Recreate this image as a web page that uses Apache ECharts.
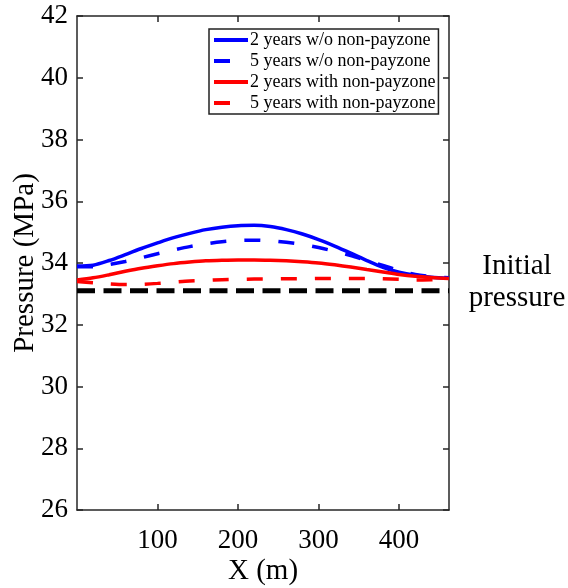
<!DOCTYPE html>
<html>
<head>
<meta charset="utf-8">
<script src="https://cdn.jsdelivr.net/npm/echarts@6/dist/echarts.min.js"></script>
<style>
  html, body { margin: 0; padding: 0; background: #fff; }
  #chart { width: 568px; height: 588px; }
</style>
</head>
<body>
<div id="chart"></div>
<script>
// Position along the section (m)
const xPos = [0, 20, 40, 60, 80, 100, 120, 140, 160, 180, 200, 220, 240, 260, 280, 300, 320, 340, 360, 380, 400, 420, 440, 462];

// Pressure profiles (MPa)
const p2yNoNonPay = [33.90, 33.93, 34.08, 34.27, 34.47, 34.65, 34.82, 34.96, 35.08, 35.16, 35.21, 35.22, 35.18, 35.08, 34.94, 34.76, 34.55, 34.32, 34.08, 33.86, 33.70, 33.60, 33.54, 33.51];
const p5yNoNonPay = [33.88, 33.88, 33.95, 34.05, 34.17, 34.30, 34.42, 34.53, 34.62, 34.69, 34.73, 34.74, 34.72, 34.67, 34.60, 34.50, 34.38, 34.24, 34.08, 33.92, 33.76, 33.63, 33.56, 33.52];
const p2yNonPay = [33.45, 33.52, 33.62, 33.73, 33.83, 33.91, 33.98, 34.03, 34.07, 34.09, 34.10, 34.10, 34.09, 34.07, 34.04, 34.00, 33.94, 33.87, 33.79, 33.71, 33.63, 33.57, 33.53, 33.50];
const p5yNonPay = [33.40, 33.36, 33.32, 33.30, 33.31, 33.34, 33.38, 33.42, 33.44, 33.46, 33.47, 33.48, 33.48, 33.49, 33.49, 33.50, 33.50, 33.50, 33.50, 33.49, 33.47, 33.45, 33.46, 33.48];

const initialPressure = 33.1;

const seriesNames = [
  '2 years w/o non-payzone',
  '5 years w/o non-payzone',
  '2 years with non-payzone',
  '5 years with non-payzone'
];

const xTickValues = [100, 200, 300, 400];
const xMin = 0, xMax = 462;
const yMin = 26, yMax = 42, yStep = 2;

const FONT = "'Liberation Serif', 'Times New Roman', serif";
const AXIS_COLOR = '#262626';

const pair = (vals) => xPos.map((x, i) => [x, vals[i]]);

const chart = echarts.init(document.getElementById('chart'), null, { renderer: 'canvas' });

const lineSeries = (name, vals, color, dashed) => ({
  name: name,
  type: 'line',
  data: pair(vals),
  symbol: 'none',
  smooth: 0.3,
  xAxisIndex: 0,
  yAxisIndex: 0,
  lineStyle: { color: color, width: 3.5, type: dashed ? [16, 18] : 'solid' },
  itemStyle: { color: color },
  emphasis: { disabled: true },
  z: 3
});

const axisCommon = {
  axisLine: { show: true, onZero: false, lineStyle: { color: AXIS_COLOR, width: 1.5 } },
  splitLine: { show: false }
};

chart.setOption({
  animation: false,
  backgroundColor: '#fff',
  grid: { left: 77, right: 119, top: 16, bottom: 78, containLabel: false, outerBoundsMode: 'none' },
  legend: {
    data: seriesNames,
    orient: 'vertical',
    left: 209,
    top: 29,
    padding: [2, 3, 2, 3],
    itemGap: 3,
    itemWidth: 34,
    itemHeight: 12,
    backgroundColor: '#fff',
    borderColor: '#222',
    borderWidth: 1.5,
    borderRadius: 0,
    selectedMode: false,
    // hide the marker dot, keep only the line sample
    itemStyle: { opacity: 0, color: 'transparent', borderWidth: 0 },
    lineStyle: { width: 4 },
    textStyle: { fontFamily: FONT, fontSize: 18, color: '#000', padding: [0, 0, 0, -3] }
  },
  xAxis: [
    Object.assign({}, axisCommon, {
      type: 'value',
      position: 'bottom',
      min: xMin,
      max: xMax,
      interval: 100,
      name: 'X (m)',
      nameLocation: 'middle',
      nameGap: 47,
      nameMoveOverlap: false,
      nameTextStyle: { fontFamily: FONT, fontSize: 29, color: '#000' },
      axisTick: { show: true, inside: true, length: 6, customValues: xTickValues, lineStyle: { color: AXIS_COLOR, width: 1.5 } },
      axisLabel: {
        show: true, margin: 17, customValues: xTickValues,
        fontFamily: FONT, fontSize: 27, color: '#000',
        formatter: (v) => (xTickValues.indexOf(v) >= 0 ? String(v) : '')
      }
    }),
    Object.assign({}, axisCommon, {
      type: 'value',
      position: 'top',
      min: xMin,
      max: xMax,
      interval: 100,
      axisTick: { show: true, inside: true, length: 6, customValues: xTickValues, lineStyle: { color: AXIS_COLOR, width: 1.5 } },
      axisLabel: { show: false }
    })
  ],
  yAxis: [
    Object.assign({}, axisCommon, {
      type: 'value',
      position: 'left',
      min: yMin,
      max: yMax,
      interval: yStep,
      name: 'Pressure (MPa)',
      nameLocation: 'middle',
      nameGap: 37,
      nameMoveOverlap: false,
      nameTextStyle: { fontFamily: FONT, fontSize: 29, color: '#000' },
      axisTick: { show: true, inside: true, length: 6, lineStyle: { color: AXIS_COLOR, width: 1.5 } },
      axisLabel: { show: true, margin: 9, fontFamily: FONT, fontSize: 27, color: '#000' }
    }),
    Object.assign({}, axisCommon, {
      type: 'value',
      position: 'right',
      min: yMin,
      max: yMax,
      interval: yStep,
      axisTick: { show: true, inside: true, length: 6, lineStyle: { color: AXIS_COLOR, width: 1.5 } },
      axisLabel: { show: false }
    })
  ],
  series: [
    lineSeries(seriesNames[0], p2yNoNonPay, '#0000ff', false),
    lineSeries(seriesNames[1], p5yNoNonPay, '#0000ff', true),
    lineSeries(seriesNames[2], p2yNonPay, '#ff0000', false),
    lineSeries(seriesNames[3], p5yNonPay, '#ff0000', true),
    {
      name: 'Initial pressure',
      type: 'line',
      data: [[xMin, initialPressure], [xMax, initialPressure]],
      symbol: 'none',
      lineStyle: { color: '#000', width: 5, type: [18, 8.5] },
      emphasis: { disabled: true },
      z: 4
    }
  ],
  graphic: [
    {
      type: 'text',
      left: 467,
      top: 250,
      style: {
        text: 'Initial\npressure',
        font: '29px ' + FONT,
        fill: '#000',
        textAlign: 'center',
        lineHeight: 32,
        width: 100
      },
      z: 10
    }
  ]
});
</script>
</body>
</html>
